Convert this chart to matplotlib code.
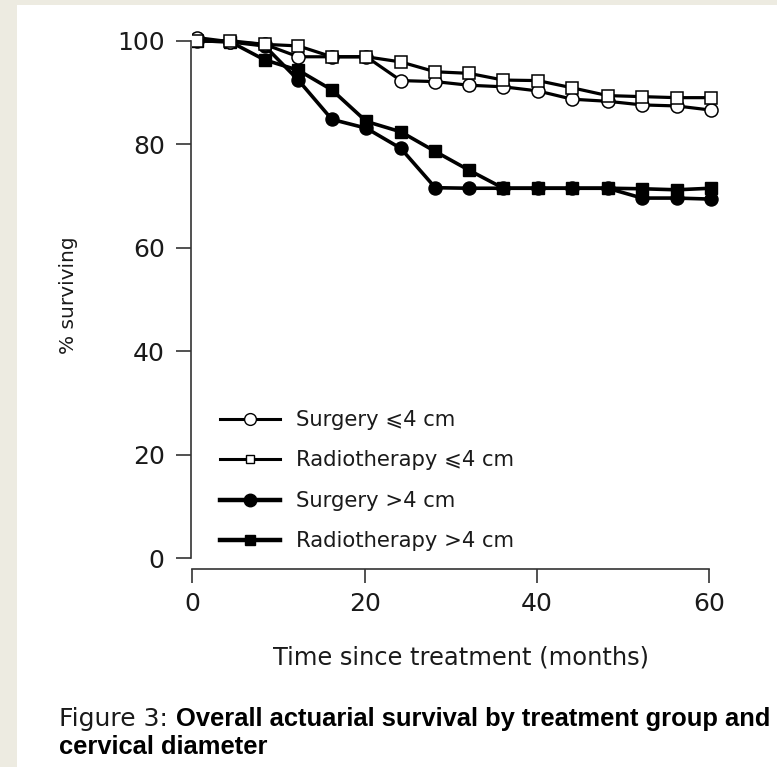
import matplotlib
matplotlib.use("Agg")
import matplotlib.pyplot as plt
from matplotlib.lines import Line2D
from matplotlib.patches import Rectangle

# ---- data ----
months = [0.6, 4.4, 8.4, 12.3, 16.2, 20.2, 24.2, 28.2, 32.1, 36.1, 40.1, 44.1, 48.2, 52.2, 56.2, 60.2]
surgery_small = [100.6, 99.8, 99.3, 96.9, 96.9, 96.9, 92.3, 92.1, 91.4, 91.1, 90.3, 88.7, 88.3, 87.6, 87.4, 86.6]
radio_small = [100.0, 100.0, 99.3, 99.0, 96.9, 96.9, 95.9, 94.0, 93.7, 92.4, 92.3, 90.9, 89.4, 89.2, 89.0, 89.0]
surgery_large = [100.0, 99.8, 99.0, 92.4, 84.8, 83.1, 79.2, 71.6, 71.5, 71.5, 71.5, 71.5, 71.5, 69.6, 69.6, 69.4]
radio_large = [100.0, 99.8, 96.3, 94.3, 90.5, 84.4, 82.4, 78.6, 75.0, 71.5, 71.5, 71.5, 71.5, 71.4, 71.2, 71.5]

series_labels = ["Surgery \u2a7d4 cm", "Radiotherapy \u2a7d4 cm", "Surgery >4 cm", "Radiotherapy >4 cm"]
x_ticks = [0, 20, 40, 60]
y_ticks = [0, 20, 40, 60, 80, 100]
x_label = "Time since treatment (months)"
y_label = "% surviving"
caption_regular = "Figure 3: "
caption_bold_1 = "Overall actuarial survival by treatment group and"
caption_bold_2 = "cervical diameter"

W, H = 777, 767
plt.rcParams['font.family'] = ['DejaVu Sans']
TXT = '#1a1a1a'

fig = plt.figure(figsize=(W / 100, H / 100), dpi=100)
fig.patch.set_facecolor('#EDEBE1')
fig.add_artist(Rectangle((17 / W, 0), 1, (H - 5) / H, transform=fig.transFigure,
                         facecolor='white', edgecolor='none', zorder=0))

ax = fig.add_axes([192.3 / W, 208.7 / H, 534.2 / W, 533.1 / H])
ax.set_facecolor('none')
ax.set_xlim(0, 62)
ax.set_ylim(0, 103)

# filled series first, open series on top
ax.plot(months, radio_large, color='black', lw=2.6, marker='s', ms=8.0,
        mfc='black', mec='black', zorder=3)
ax.plot(months, surgery_large, color='black', lw=2.6, marker='o', ms=9.4,
        mfc='black', mec='black', zorder=3)
ax.plot(months, surgery_small, color='black', lw=2.3, marker='o', ms=9.4,
        mfc='white', mec='black', mew=1.1, zorder=4)
ax.plot(months, radio_small, color='black', lw=2.3, marker='s', ms=8.0,
        mfc='white', mec='black', mew=1.1, zorder=5)

for s in ('top', 'right'):
    ax.spines[s].set_visible(False)
ax.spines['left'].set_bounds(0, 100)
ax.spines['bottom'].set_bounds(0, 60)
ax.spines['bottom'].set_position(('outward', 8))
ax.spines['left'].set_position(('outward', 1.1))
for s in ('left', 'bottom'):
    ax.spines[s].set_linewidth(1.2)
    ax.spines[s].set_color('#333333')

ax.set_xticks(x_ticks)
ax.set_yticks(y_ticks)
ax.tick_params(axis='y', length=10.8, width=1.2, pad=8, labelsize=18, colors='#333333', labelcolor=TXT)
ax.tick_params(axis='x', length=9.9, width=1.2, pad=6.5, labelsize=18, colors='#333333', labelcolor=TXT)

fig.text(69 / W, 1 - 295 / H, y_label, rotation=90, ha='center', va='center',
         fontsize=14.5, color=TXT)
fig.text(461 / W, 1 - 658 / H, x_label, ha='center', va='center',
         fontsize=17.4, color=TXT)

handles = [
    Line2D([], [], color='black', lw=2.2, marker='o', ms=8.5, mfc='white', mec='black', mew=1.0),
    Line2D([], [], color='black', lw=2.2, marker='s', ms=6.0, mfc='white', mec='black', mew=1.0),
    Line2D([], [], color='black', lw=3.2, marker='o', ms=9.0, mfc='black', mec='black'),
    Line2D([], [], color='black', lw=3.2, marker='s', ms=7.5, mfc='black', mec='black'),
]
ax.legend(handles, series_labels, loc='upper left',
          bbox_to_anchor=(220 / W, 1 - 410 / H), bbox_transform=fig.transFigure,
          frameon=False, borderpad=0, borderaxespad=0, handlelength=2.84,
          handletextpad=0.75, labelspacing=0.97, fontsize=15.2, labelcolor=TXT)

t1 = fig.text(59 / W, 1 - 726 / H, caption_regular, fontsize=18, family=['DejaVu Sans'],
              color=TXT, va='baseline')
ax.annotate(caption_bold_1, xy=(1, 0), xycoords=t1, va='bottom', ha='left',
            fontsize=18.4, family=['Liberation Sans', 'DejaVu Sans'], fontweight='bold',
            color='black', annotation_clip=False)
fig.text(59 / W, 1 - 754 / H, caption_bold_2, fontsize=18.4,
         family=['Liberation Sans', 'DejaVu Sans'],
         fontweight='bold', color='black', va='baseline')

fig.savefig('out.png', dpi=100, facecolor=fig.get_facecolor())
